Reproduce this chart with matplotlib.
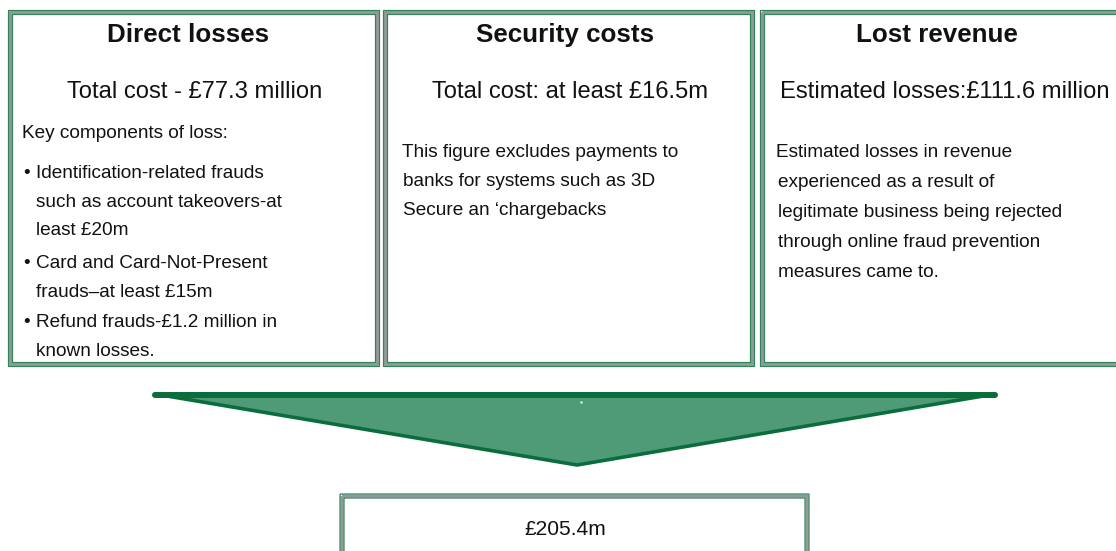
import matplotlib
matplotlib.use("Agg")
import matplotlib.pyplot as plt
from matplotlib.patches import Rectangle, Polygon

plt.rcParams['font.family'] = ['Liberation Sans', 'DejaVu Sans']

# ---- content ----
titles = ["Direct losses", "Security costs", "Lost revenue"]
subtitles = ["Total cost - £77.3 million", "Total cost: at least £16.5m",
             "Estimated losses:£111.6 million"]
box1_lines = ["Key components of loss:",
              "• Identification-related frauds",
              "such as account takeovers-at",
              "least £20m",
              "• Card and Card-Not-Present",
              "frauds–at least £15m",
              "• Refund frauds-£1.2 million in",
              "known losses."]
box2_lines = ["This figure excludes payments to",
              "banks for systems such as 3D",
              "Secure an \u2018chargebacks"]
box3_lines = ["Estimated losses in revenue",
              "experienced as a result of",
              "legitimate business being rejected",
              "through online fraud prevention",
              "measures came to."]
total_label = "£205.4m"

W, H = 1116, 551
fig = plt.figure(figsize=(W / 100, H / 100), dpi=100)
ax = fig.add_axes([0, 0, 1, 1])
ax.set_xlim(0, W)
ax.set_ylim(H, 0)
ax.axis('off')

PX = 0.72  # px -> pt at dpi 100
GREEN_EDGE = '#2f845a'
GRAY = '#949a97'
TXT = '#111111'


def rect(x0, y0, x1, y1, lw, col):
    ax.add_patch(Rectangle((x0, y0), x1 - x0, y1 - y0, fill=False,
                           lw=lw * PX, edgecolor=col, joinstyle='round',
                           snap=False))


def frame(x0, y0, x1, y1):
    ax.add_patch(Rectangle((x0, y0), x1 - x0, y1 - y0, facecolor='white',
                           edgecolor='none', zorder=0))
    rect(x0, y0, x1, y1, 3.4, GRAY)
    rect(x0 - 2, y0 - 2, x1 + 2, y1 + 2, 1.2, GREEN_EDGE)
    rect(x0 + 2, y0 + 2, x1 - 2, y1 - 2, 1.2, GREEN_EDGE)


# boxes
frame(10.5, 12.5, 377.5, 364.5)
frame(385.5, 12.5, 752.5, 364.5)
frame(762.5, 12.5, 1130, 364.5)
frame(342, 496, 807, 570)

TS = 26 * PX
SS = 23.8 * PX
BS = 19 * PX

# titles
for x, t in zip([188, 565.5, 937], titles):
    ax.text(x, 42, t, ha='center', va='baseline', fontsize=TS,
            fontweight='bold', color=TXT)
# subtitles
for x, t in zip([194.5, 570.5, 944.5], subtitles):
    ax.text(x, 97.5, t, ha='center', va='baseline', fontsize=SS, color=TXT)

# box 1 body
b1_y = [138, 178, 207, 235, 268, 297, 327, 356]
for i, (y, t) in enumerate(zip(b1_y, box1_lines)):
    if t.startswith('•'):
        ax.text(23, y, '•', ha='left', va='baseline', fontsize=BS, color=TXT)
        ax.text(36.5, y, t[2:], ha='left', va='baseline', fontsize=BS, color=TXT)
    elif i == 0:
        ax.text(22.5, y, t, ha='left', va='baseline', fontsize=BS, color=TXT)
    else:
        ax.text(36.5, y, t, ha='left', va='baseline', fontsize=BS, color=TXT)

# box 2 body
b2_x = [401.5, 403, 403]
b2_y = [157, 186, 215]
for x, y, t in zip(b2_x, b2_y, box2_lines):
    ax.text(x, y, t, ha='left', va='baseline', fontsize=BS, color=TXT)

# box 3 body
b3_x = [776.5, 778, 778, 778, 778]
b3_y = [157, 187, 217, 247, 277]
for x, y, t in zip(b3_x, b3_y, box3_lines):
    ax.text(x, y, t, ha='left', va='baseline', fontsize=BS, color=TXT)

# arrow triangle
tri = Polygon([(155, 394), (995, 394), (577, 465)], closed=True,
              facecolor='#4f9b78', edgecolor='#0a6e3c', lw=3.6 * PX,
              joinstyle='round')
ax.add_patch(tri)
ax.plot([155, 995], [394.5, 394.5], color='#0a6e3c', lw=6 * PX,
        solid_capstyle='round')
ax.plot([581], [402], marker='s', ms=1.5, color='white', mec='none')

# total
ax.text(565, 535, total_label, ha='center', va='baseline', fontsize=21 * PX,
        color=TXT)

fig.savefig('out.png', dpi=100)
